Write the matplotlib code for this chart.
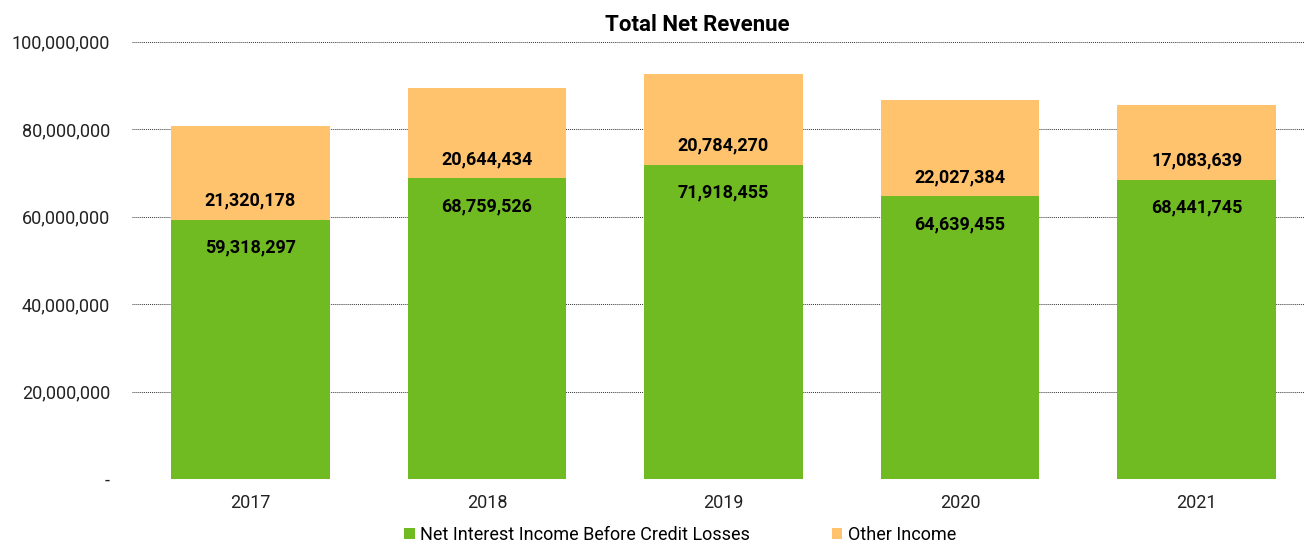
import matplotlib.pyplot as plt
import matplotlib.ticker as mticker

plt.rcParams['font.family'] = ['Roboto', 'DejaVu Sans']

years = ['2017', '2018', '2019', '2020', '2021']
net_interest = [59318297, 68759526, 71918455, 64639455, 68441745]
other_income = [21320178, 20644434, 20784270, 22027384, 17083639]

green = '#70BA22'
orange = '#FFC36E'

fig = plt.figure(figsize=(13.08, 5.43), dpi=100)
ax = fig.add_axes([0.101, 0.118, 0.897, 0.805])

x = list(range(len(years)))
b1 = ax.bar(x, net_interest, width=0.67, color=green, zorder=2,
            label='Net Interest Income Before Credit Losses')
b2 = ax.bar(x, other_income, width=0.67, bottom=net_interest, color=orange, zorder=2,
            label='Other Income')

# value labels: green just below its top, orange just above the split
for i in x:
    ax.annotate(f'{net_interest[i]:,}', (i, net_interest[i]), xytext=(0, -28),
                textcoords='offset pixels', ha='center', va='center',
                fontsize=13, fontweight='bold', color='black')
    ax.annotate(f'{other_income[i]:,}', (i, net_interest[i]), xytext=(0, 19),
                textcoords='offset pixels', ha='center', va='center',
                fontsize=13, fontweight='bold', color='black')

ax.set_ylim(0, 100000000)
ax.set_xlim(-0.5, 4.46)
ax.set_yticks(range(0, 100000001, 20000000))
ax.yaxis.set_major_formatter(mticker.FuncFormatter(lambda v, p: '-' if v == 0 else f'{int(v):,}'))
ax.set_xticks(x)
ax.set_xticklabels(years)
ax.tick_params(axis='both', length=0, labelsize=13, colors='#222222')
ax.tick_params(axis='y', pad=16)
ax.tick_params(axis='x', pad=11)
ax.grid(axis='y', linestyle=(0, (1, 1)), color='#333333', linewidth=0.7, zorder=0)
for s in ax.spines.values():
    s.set_visible(False)

fig.text(0.533, 0.954, 'Total Net Revenue', ha='center', va='center',
         fontsize=16, fontweight='bold')

fig.legend(handles=[b1, b2], loc='center', bbox_to_anchor=(0.52, 0.015), ncol=2,
           frameon=False, fontsize=13, handlelength=0.6, handleheight=0.6,
           handletextpad=0.3, columnspacing=4.5)

plt.savefig('out.png', dpi=100)
